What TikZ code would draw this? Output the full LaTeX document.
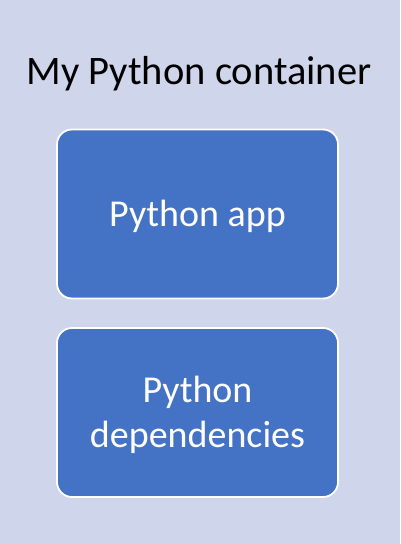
\documentclass[tikz,border=0pt]{standalone}
\usepackage{fontspec}
\setmainfont{Carlito}
\definecolor{bgc}{HTML}{CFD5EA}
\definecolor{boxc}{HTML}{4472C4}
\begin{document}
\begin{tikzpicture}[x=1pt,y=1pt,
  blockbox/.style={draw=white, line width=1.8pt, fill=boxc, rounded corners=15pt,
    minimum width=281pt, minimum height=169pt, inner sep=0pt},
  blocktext/.style={text=white, font=\fontsize{38}{45}\selectfont, align=center, inner sep=0pt, anchor=base}]
\fill[bgc] (0,0) rectangle (400,544);
\useasboundingbox (0,0) rectangle (400,544);
\node[font=\fontsize{40.5}{48}\selectfont, anchor=base, inner sep=0pt] (title) at (199,459) {My Python container};
\node[blockbox] (app) at (197.5,330) {};
\node[blocktext] (apptext) at ([yshift=-13pt]app.center) {Python app};
\node[blockbox] (deps) at (197.5,131.5) {};
\node[blocktext] (depstext) at ([yshift=-35.5pt]deps.center) {Python\\dependencies};
\end{tikzpicture}
\end{document}
